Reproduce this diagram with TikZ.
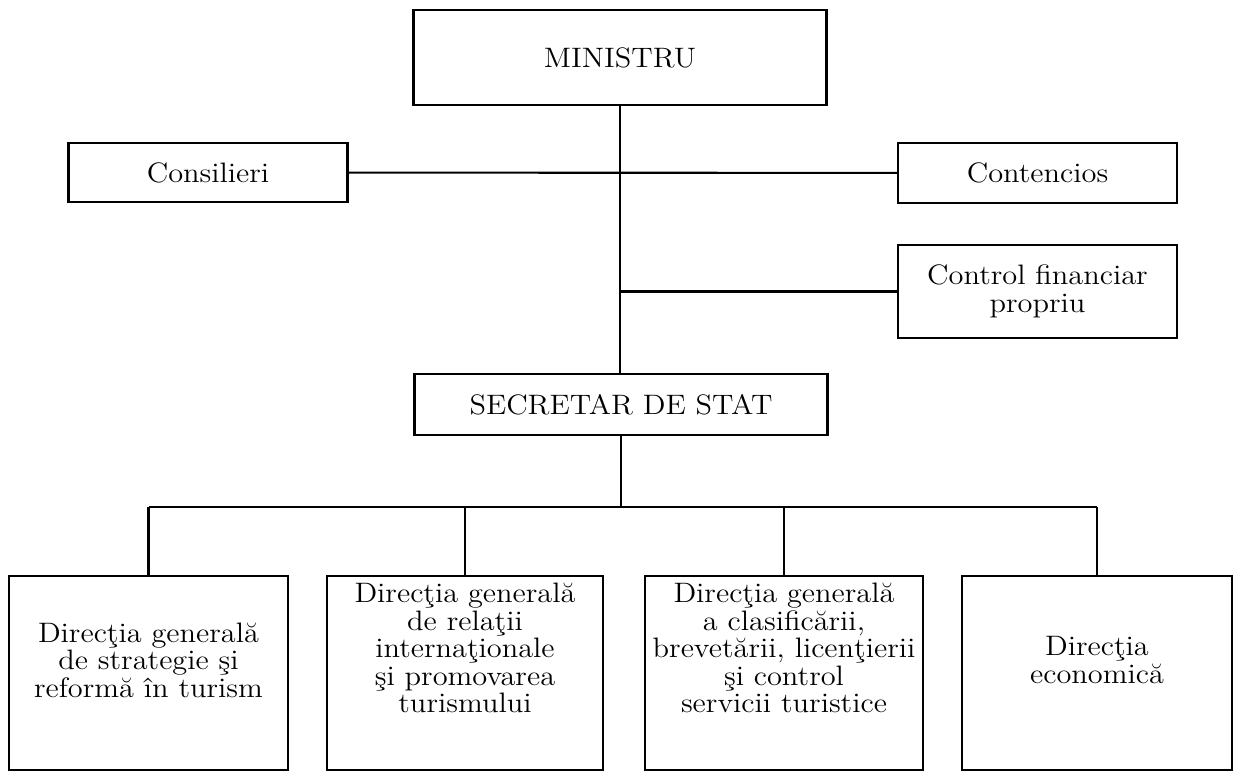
\documentclass[tikz,border=0pt]{standalone}
\usepackage{fontspec}
\newfontfamily\chartfont{lmroman12-regular.otf}[FakeStretch=1.08]
\usetikzlibrary{positioning}

\begin{document}
\begin{tikzpicture}[x=1cm, y=1cm,
    font=\chartfont\fontsize{16}{15.6}\selectfont,
    box/.style={draw, line width=1.2pt, inner sep=0pt},
    topbox/.style={box, minimum width=8.26cm, minimum height=1.9cm},
    sidebox/.style={box, minimum width=5.58cm},
    dirbox/.style={box, minimum height=3.88cm},
    txt/.style={align=center},
    link/.style={line width=1.2pt}]
    \useasboundingbox (0,0) rectangle (24.74,15.58);
    % conducere
    \node[topbox] (ministru) at (12.40,14.43) {MINISTRU};
    \node[sidebox, minimum height=1.18cm] (consilieri) at (4.16,12.13) {Consilieri};
    \node[sidebox, minimum height=1.2cm] (contencios) at (20.75,12.12) {Contencios};
    \node[sidebox, minimum height=1.86cm, txt] (control) at (20.75,9.75) {Control financiar\\propriu};
    \node[topbox, minimum height=1.22cm] (secretar) at (12.42,7.49) {SECRETAR DE STAT};
    % directii
    \node[dirbox, minimum width=5.58cm] (strategie) at (2.97,2.12) {};
    \node[dirbox, minimum width=5.52cm] (relatii) at (9.30,2.12) {};
    \node[dirbox, minimum width=5.56cm] (clasificare) at (15.68,2.12) {};
    \node[dirbox, minimum width=5.40cm] (economica) at (21.94,2.12) {};
    \node[txt] (strategie-t) at (2.97,2.38) {Direcţia generală\\de strategie şi\\reformă în turism};
    \node[txt] (relatii-t) at (9.30,2.62) {Direcţia generală\\de relaţii\\internaţionale\\şi promovarea\\turismului};
    \node[txt] (clasificare-t) at (15.68,2.62) {Direcţia generală\\a clasificării,\\brevetării, licenţierii\\şi control\\servicii turistice};
    \node[txt] (economica-t) at (21.94,2.38) {Direcţia\\economică};
    % legaturi
    \draw[link] (ministru.south) -- (ministru.south |- secretar.north);
    \draw[link] (consilieri) -- (contencios);
    \draw[link] (control.west) -- (control.west -| ministru.south);
    \coordinate (bus) at (12.42,5.44);
    \draw[link] (secretar.south) -- (secretar.south |- bus);
    \draw[link] (strategie.north |- bus) -- (economica.north |- bus);
    \foreach \d in {strategie, relatii, clasificare, economica}
        \draw[link] (\d.north) -- (\d.north |- bus);
\end{tikzpicture}
\end{document}
